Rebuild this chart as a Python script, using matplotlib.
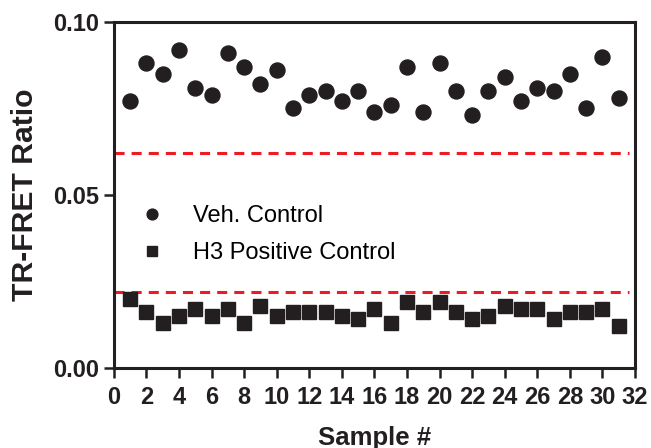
import numpy as np
import matplotlib
matplotlib.use("Agg")
import matplotlib.pyplot as plt

plt.rcParams['font.family'] = ['Liberation Sans', 'DejaVu Sans']

# data
samples = np.arange(1, 32)
veh_control = [0.077, 0.088, 0.085, 0.092, 0.081, 0.079, 0.091, 0.087, 0.082, 0.086,
               0.075, 0.079, 0.080, 0.077, 0.080, 0.074, 0.076, 0.087, 0.074, 0.088,
               0.080, 0.073, 0.080, 0.084, 0.077, 0.081, 0.080, 0.085, 0.075, 0.090,
               0.078]
h3_control = [0.020, 0.016, 0.013, 0.015, 0.017, 0.015, 0.017, 0.013, 0.018, 0.015,
              0.016, 0.016, 0.016, 0.015, 0.014, 0.017, 0.013, 0.019, 0.016, 0.019,
              0.016, 0.014, 0.015, 0.018, 0.017, 0.017, 0.014, 0.016, 0.016, 0.017,
              0.012]
cutoffs = [0.062, 0.022]

dark = '#231f20'
red = '#ed1c24'

fig = plt.figure(figsize=(6.51, 4.48), dpi=100)
ax = fig.add_axes([0.175, 0.179, 0.8005, 0.772])

ax.plot(samples, veh_control, 'o', color=dark, markersize=10.8, label='Veh. Control', zorder=3)
ax.plot(samples, h3_control, 's', color=dark, markersize=10.2, label='H3 Positive Control', zorder=3)

for c in cutoffs:
    ax.hlines(c, 0, 31.6, colors=red, linewidth=2.2, linestyles=(0, (3.3, 2.3)), zorder=2)

ax.set_xlim(0, 32)
ax.set_ylim(0, 0.1)
ax.set_xticks(np.arange(0, 33, 2))
ax.set_yticks([0.0, 0.05, 0.10])
ax.set_yticklabels(['0.00', '0.05', '0.10'])

for s in ax.spines.values():
    s.set_linewidth(2.2)
    s.set_color(dark)

ax.tick_params(direction='out', length=7, width=1.8, color=dark, labelsize=17)
ax.tick_params(axis='x', pad=6)
ax.tick_params(axis='y', pad=4)
for lbl in ax.get_xticklabels() + ax.get_yticklabels():
    lbl.set_fontweight('bold')
    lbl.set_color(dark)

ax.set_xlabel('Sample #', fontsize=18.5, fontweight='bold', color=dark, labelpad=12)
ax.set_ylabel('TR-FRET Ratio', fontsize=21.7, fontweight='bold', color=dark, labelpad=10)

ax.legend(loc='upper left', bbox_to_anchor=(0.05, 0.47), frameon=False, fontsize=17,
          markerscale=0.72, handlelength=1.0, handletextpad=1.25, labelspacing=0.62,
          borderpad=0, borderaxespad=0)

fig.savefig('out.png', dpi=100)
